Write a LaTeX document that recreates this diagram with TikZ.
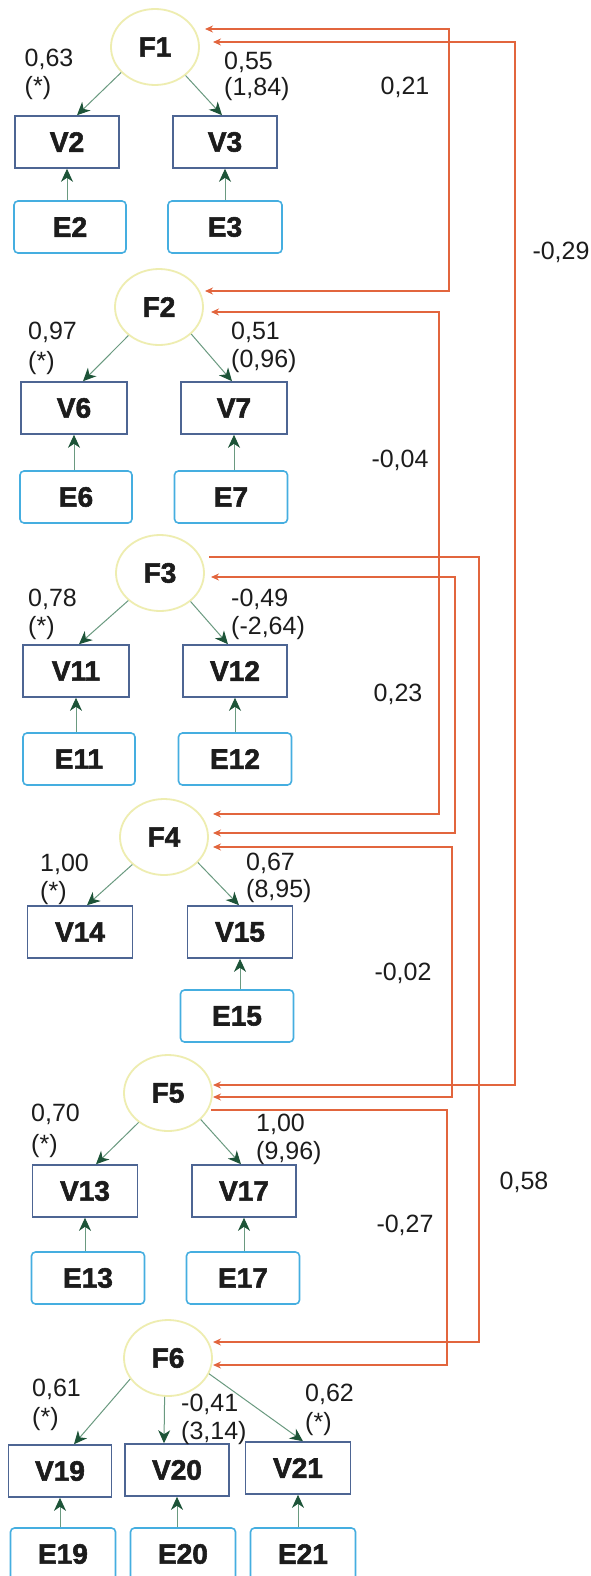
\documentclass[tikz,border=0pt]{standalone}
\usepackage{fontspec}
\setmainfont{Liberation Sans}[BoldFeatures={FakeBold=2}]
\usetikzlibrary{arrows.meta,shapes.geometric}
\definecolor{vcol}{HTML}{4D6593}
\definecolor{ecol}{HTML}{45AEE0}
\definecolor{fcol}{HTML}{EEEDB0}
\definecolor{gcol}{HTML}{6A9A80}
\definecolor{gdark}{HTML}{1D5438}
\definecolor{rcol}{HTML}{E2653D}
\definecolor{tcol}{HTML}{1C1C1C}
\newcommand{\numfnt}{\fontsize{25}{30}\selectfont}
\newcommand{\nodefnt}{\fontsize{28}{32}\selectfont\bfseries}
\tikzset{
  vbox/.style={draw=vcol, line width=1.6pt, fill=white, minimum height=52pt, inner sep=0pt, font=\nodefnt, text=tcol},
  ebox/.style={draw=ecol, line width=1.6pt, rounded corners=4pt, fill=white, minimum height=52pt, inner sep=0pt, font=\nodefnt, text=tcol},
  fnode/.style={ellipse, draw=fcol, line width=1.8pt, minimum width=88pt, minimum height=76pt, inner sep=0pt, font=\nodefnt, text=tcol},
  gline/.style={draw=gcol, line width=1pt, -{Stealth[length=13pt,width=12pt,inset=4pt,color=gdark]}},
  rline/.style={draw=rcol, line width=1.6pt},
  rtip/.style={{Stealth[length=8pt,width=7pt,color=rcol]}-{Stealth[length=8pt,width=7pt,color=rcol]}},
  rtipend/.style={-{Stealth[length=8pt,width=7pt,color=rcol]}},
  lab/.style={font=\numfnt, text=tcol, anchor=base west, inner sep=0pt},
  clab/.style={font=\numfnt, text=tcol, inner sep=0pt}
}
\begin{document}
\begin{tikzpicture}[x=1pt,y=-1pt]
\useasboundingbox (0,0) rectangle (591,1576);
\clip (0,0) rectangle (591,1576);
\fill[white] (0,0) rectangle (591,1576);

% factors
\node[fnode] (F1) at (155,47) {F1};
\node[fnode] (F2) at (159,307) {F2};
\node[fnode] (F3) at (160,573) {F3};
\node[fnode] (F4) at (164,837) {F4};
\node[fnode] (F5) at (168,1093) {F5};
\node[fnode] (F6) at (168,1358) {F6};

% observed variables
\node[vbox, minimum width=104pt] (V2) at (67,142) {V2};
\node[vbox, minimum width=104pt] (V3) at (225,142) {V3};
\node[vbox, minimum width=106pt] (V6) at (74,408) {V6};
\node[vbox, minimum width=106pt] (V7) at (234,408) {V7};
\node[vbox, minimum width=106pt] (V11) at (76,671) {V11};
\node[vbox, minimum width=104pt] (V12) at (235,671) {V12};
\node[vbox, minimum width=105pt] (V14) at (80,932) {V14};
\node[vbox, minimum width=105pt] (V15) at (240,932) {V15};
\node[vbox, minimum width=105pt] (V13) at (85,1191) {V13};
\node[vbox, minimum width=104pt] (V17) at (244,1191) {V17};
\node[vbox, minimum width=103pt] (V19) at (60,1471) {V19};
\node[vbox, minimum width=104pt] (V20) at (177,1470) {V20};
\node[vbox, minimum width=105pt] (V21) at (298,1468) {V21};

% errors
\node[ebox, minimum width=112pt] (E2) at (70,227) {E2};
\node[ebox, minimum width=114pt] (E3) at (225,227) {E3};
\node[ebox, minimum width=112pt] (E6) at (76,497) {E6};
\node[ebox, minimum width=113pt] (E7) at (231,497) {E7};
\node[ebox, minimum width=112pt] (E11) at (79,759) {E11};
\node[ebox, minimum width=113pt] (E12) at (235,759) {E12};
\node[ebox, minimum width=113pt] (E15) at (237,1016) {E15};
\node[ebox, minimum width=113pt] (E13) at (88,1278) {E13};
\node[ebox, minimum width=113pt] (E17) at (243,1278) {E17};
\node[ebox, minimum width=105pt] (E19) at (63,1554) {E19};
\node[ebox, minimum width=105pt] (E20) at (183,1554) {E20};
\node[ebox, minimum width=105pt] (E21) at (303,1554) {E21};

% loadings
\draw[gline] (F1.217) -- ([xshift=10pt]V2.north);
\draw[gline] (F1.317) -- ([xshift=-3pt]V3.north);
\draw[gline] (F2.223) -- ([xshift=9pt]V6.north);
\draw[gline] (F2.320) -- ([xshift=-2pt]V7.north);
\draw[gline] (F3.221) -- ([xshift=3pt]V11.north);
\draw[gline] (F3.317) -- ([xshift=-7pt]V12.north);
\draw[gline] (F4.221) -- ([xshift=7pt]V14.north);
\draw[gline] (F4.323) -- ([xshift=-1pt]V15.north);
\draw[gline] (F5.225) -- ([xshift=11pt]V13.north);
\draw[gline] (F5.321) -- ([xshift=-3pt]V17.north);
\draw[gline] (F6.209) -- ([xshift=14pt]V19.north);
\draw[gline] (F6.265) -- ([xshift=-13pt]V20.north);
\draw[gline] (F6.339) -- ([xshift=5pt]V21.north);

% error arrows
\foreach \e/\v in {E2/V2,E3/V3,E6/V6,E7/V7,E11/V11,E12/V12,E15/V15,E13/V13,E17/V17,E19/V19,E20/V20,E21/V21}
  \draw[gline] (\e.north -| \v.south) -- (\v.south);

% correlations
\coordinate (c12a) at (205,29);   \coordinate (c12b) at (205,291);
\coordinate (c15a) at (213,42);   \coordinate (c15b) at (213,1085);
\coordinate (c24a) at (211,312);  \coordinate (c24b) at (213,814);
\coordinate (c34a) at (211,577);  \coordinate (c34b) at (213,833);
\coordinate (c36a) at (209,557);  \coordinate (c36b) at (213,1342);
\coordinate (c45a) at (213,847);  \coordinate (c45b) at (213,1097);
\coordinate (c56a) at (211,1110); \coordinate (c56b) at (213,1365);

\draw[rline, rtip] (c12a) -- ++(244,0) |- (c12b);
\draw[rline, rtip] (c15a) -- ++(302,0) |- (c15b);
\draw[rline, rtip] (c24a) -- ++(228,0) |- (c24b);
\draw[rline, rtip] (c34a) -- ++(244,0) |- (c34b);
\draw[rline, rtipend] (c36a) -- ++(270,0) |- (c36b);
\draw[rline, rtip] (c45a) -- ++(239,0) |- (c45b);
\draw[rline, rtipend] (c56a) -- ++(236,0) |- (c56b);

\node[clab] (k12) at (405,87) {0,21};
\node[clab] (k15) at (561,252) {-0,29};
\node[clab] (k24) at (400,460) {-0,04};
\node[clab] (k34) at (398,694) {0,23};
\node[clab] (k45) at (403,973) {-0,02};
\node[clab] (k36) at (524,1182) {0,58};
\node[clab] (k56) at (405,1225) {-0,27};

% loading labels
\node[lab] (l2a) at (24.5,66.5) {0,63};  \node[lab] (l2b) at (24.5,95) {(*)};
\node[lab] (l3a) at (224,69.5) {0,55};   \node[lab] (l3b) at (224,96) {(1,84)};
\node[lab] (l6a) at (28,339.5) {0,97};   \node[lab] (l6b) at (28,369) {(*)};
\node[lab] (l7a) at (231,339.5) {0,51};  \node[lab] (l7b) at (231,367) {(0,96)};
\node[lab] (l11a) at (28,606.5) {0,78};  \node[lab] (l11b) at (28,634) {(*)};
\node[lab] (l12a) at (231,606.5) {-0,49}; \node[lab] (l12b) at (231,634) {(-2,64)};
\node[lab] (l14a) at (40,871.5) {1,00};  \node[lab] (l14b) at (40,899) {(*)};
\node[lab] (l15a) at (246,870.5) {0,67}; \node[lab] (l15b) at (246,897) {(8,95)};
\node[lab] (l13a) at (31,1121.5) {0,70}; \node[lab] (l13b) at (31,1152) {(*)};
\node[lab] (l17a) at (256,1131.5) {1,00}; \node[lab] (l17b) at (256,1159) {(9,96)};
\node[lab] (l19a) at (32,1396.5) {0,61}; \node[lab] (l19b) at (32,1425) {(*)};
\node[lab] (l20a) at (181,1411.5) {-0,41}; \node[lab] (l20b) at (181,1439) {(3,14)};
\node[lab] (l21a) at (305,1401.5) {0,62}; \node[lab] (l21b) at (305,1430) {(*)};
\end{tikzpicture}
\end{document}
